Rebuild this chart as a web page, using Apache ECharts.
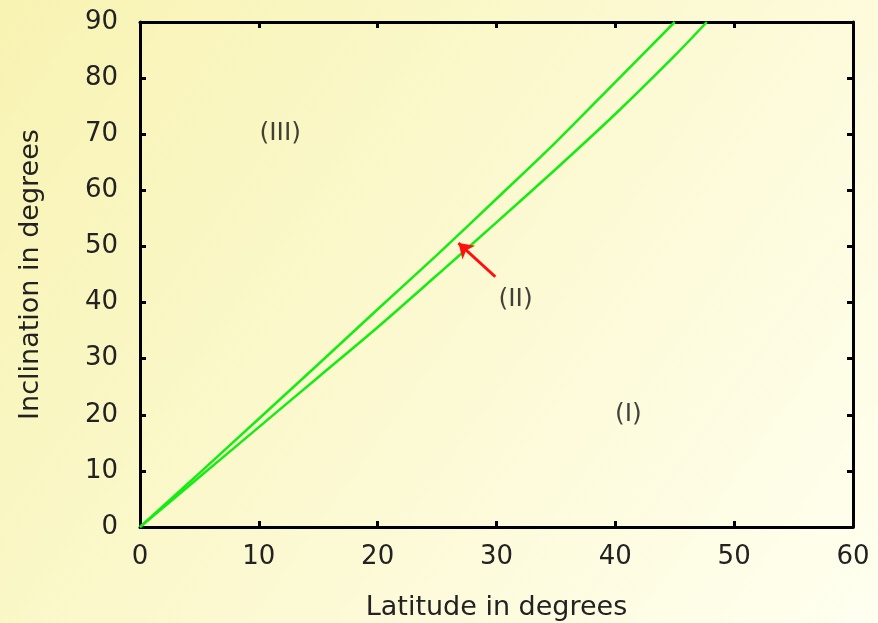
<!DOCTYPE html>
<html>
<head>
<meta charset="utf-8">
<script src="https://cdn.jsdelivr.net/npm/echarts@6/dist/echarts.min.js"></script>
<style>
html,body{margin:0;padding:0;}
#chart{width:878px;height:623px;}
</style>
</head>
<body>
<div id="chart"></div>
<script>
// 数据
var upperLat = [0, 5, 10, 15, 20, 25, 30, 35, 40, 45];
var upperInc = [0, 9.6, 19.3, 29, 38.8, 48.5, 58.5, 68.6, 79.3, 90];
var lowerLat = [0, 5, 10, 15, 20, 25, 30, 35, 40, 45, 47.7];
var lowerInc = [0, 8.9, 17.8, 26.7, 35.6, 44.9, 54.3, 63.8, 73.6, 84, 90];
var regionNames = ['(III)', '(II)', '(I)'];
var regionLat = [11.8, 31.6, 41.1];
var regionInc = [70.2, 40.5, 20];
var arrowFrom = [29.9, 44.6];
var arrowTo = [26.8, 50.6];
var xTicks = [0, 10, 20, 30, 40, 50, 60];
var yTicks = [0, 10, 20, 30, 40, 50, 60, 70, 80, 90];

var chart = echarts.init(document.getElementById('chart'));

function pairs(xs, ys){
	var out = [];
	for (var i = 0; i < xs.length; i++){
		out.push([xs[i], ys[i]]);
	}
	return out;
}

var regionData = [];
for (var i in regionNames){
	regionData.push({name: regionNames[i], value: [regionLat[i], regionInc[i]]});
}

var font = 'DejaVu Sans';
var axisLineStyle = {color: '#000', width: 3};

var options = {
	animation: false,
	backgroundColor: {
		type: 'linear', x: 0, y: 0, x2: 1, y2: 1,
		colorStops: [
			{offset: 0, color: '#f8f3b2'},
			{offset: 1, color: '#fffff0'}
		]
	},
	grid: {left: 140, right: 25, top: 22, bottom: 96, outerBoundsMode: 'none'},
	xAxis: [
		{
			type: 'value', min: 0, max: 60, interval: 10,
			name: 'Latitude in degrees', nameLocation: 'middle', nameGap: 67,
			nameTextStyle: {fontFamily: font, fontSize: 27, color: '#222'},
			axisLine: {show: true, onZero: false, lineStyle: axisLineStyle},
			axisTick: {show: true, inside: true, length: 6, lineStyle: axisLineStyle},
			axisLabel: {fontFamily: font, fontSize: 26, color: '#222', margin: 17,
				formatter: function(v){ return xTicks.indexOf(v) >= 0 ? String(v) : ''; }},
			splitLine: {show: false}
		},
		{
			type: 'value', min: 0, max: 60, interval: 10, position: 'top',
			axisLine: {show: true, onZero: false, lineStyle: axisLineStyle},
			axisTick: {show: true, inside: true, length: 6, lineStyle: axisLineStyle},
			axisLabel: {show: false},
			splitLine: {show: false}
		}
	],
	yAxis: [
		{
			type: 'value', min: 0, max: 90, interval: 10,
			name: 'Inclination in degrees', nameLocation: 'middle', nameGap: 96,
			nameTextStyle: {fontFamily: font, fontSize: 27, color: '#222'},
			axisLine: {show: true, onZero: false, lineStyle: axisLineStyle},
			axisTick: {show: true, inside: true, length: 6, lineStyle: axisLineStyle},
			axisLabel: {fontFamily: font, fontSize: 26, color: '#222', margin: 22,
				formatter: function(v){ return yTicks.indexOf(v) >= 0 ? String(v) : ''; }},
			splitLine: {show: false}
		},
		{
			type: 'value', min: 0, max: 90, interval: 10, position: 'right',
			axisLine: {show: true, onZero: false, lineStyle: axisLineStyle},
			axisTick: {show: true, inside: true, length: 6, lineStyle: axisLineStyle},
			axisLabel: {show: false},
			splitLine: {show: false}
		}
	],
	series: [
		{
			type: 'line', name: 'upper', data: pairs(upperLat, upperInc),
			showSymbol: false, smooth: 0.3,
			lineStyle: {color: '#14ec14', width: 2.5}
		},
		{
			type: 'line', name: 'lower', data: pairs(lowerLat, lowerInc),
			showSymbol: false, smooth: 0.3,
			lineStyle: {color: '#14ec14', width: 2.5},
			markLine: {
				silent: true,
				symbol: ['none', 'arrow'],
				symbolSize: 14,
				label: {show: false},
				lineStyle: {color: '#ff1010', width: 3, type: 'solid'},
				data: [[{coord: arrowFrom}, {coord: arrowTo}]]
			}
		},
		{
			type: 'scatter', data: regionData, symbolSize: 0,
			label: {
				show: true, position: 'inside', formatter: '{b}',
				fontFamily: font, fontSize: 25, color: '#111',
				textBorderWidth: 0
			}
		}
	]
};

chart.setOption(options);
</script>
</body>
</html>
